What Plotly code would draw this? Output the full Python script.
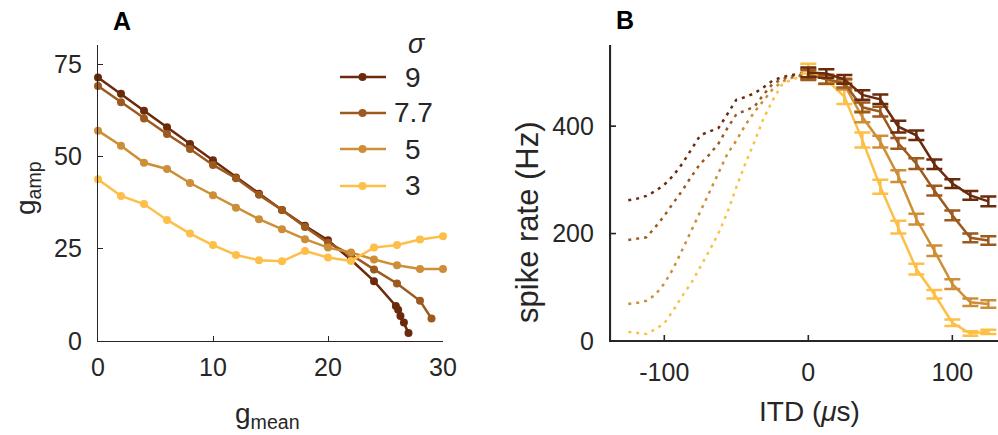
import plotly.graph_objects as go

W, H = 998, 435
FONT = "Liberation Sans, Arial, sans-serif"
AX = "#262626"

# ---------------- data ----------------
sigmas = ["9", "7.7", "5", "3"]
colors = ["#6B2A0C", "#9C5A1F", "#CD8E37", "#FDBF47"]

# Panel A: g_amp vs g_mean
gmean_9 = [0, 2, 4, 6, 8, 10, 12, 14, 16, 18, 20, 22, 24, 25.9, 26.1, 26.3, 26.6, 27.0]
gamp_9 = [71.4, 67.0, 62.4, 57.9, 53.4, 49.0, 44.3, 39.9, 35.5, 31.2, 27.3, 22.0, 16.2, 9.5, 8.5, 6.8, 5.0, 2.2]
gmean_77 = [0, 2, 4, 6, 8, 10, 12, 14, 16, 18, 20, 22, 24, 26, 28, 29]
gamp_77 = [69.1, 64.7, 60.3, 56.1, 52.0, 47.7, 44.1, 39.6, 35.5, 30.9, 26.6, 23.4, 19.4, 15.6, 10.9, 6.1]
gmean_5 = [0, 2, 4, 6, 8, 10, 12, 14, 16, 18, 20, 22, 24, 26, 28, 30]
gamp_5 = [57.0, 52.9, 48.3, 46.6, 42.8, 39.5, 36.1, 33.0, 30.3, 27.6, 25.3, 24.0, 22.1, 20.5, 19.5, 19.5]
gmean_3 = [0, 2, 4, 6, 8, 10, 12, 14, 16, 18, 20, 22, 24, 26, 28, 30]
gamp_3 = [43.8, 39.3, 37.1, 32.8, 29.1, 26.0, 23.3, 21.9, 21.6, 24.4, 22.6, 21.7, 25.3, 26.0, 27.5, 28.4]

# Panel B: spike rate vs ITD
itd_neg = [-125, -118.75, -112.5, -106.25, -100, -93.75, -87.5, -81.25, -75, -68.75, -62.5,
           -56.25, -50, -43.75, -37.5, -31.25, -25, -18.75, -12.5, -6.25, 0]
rate_neg_9 = [262, 265, 270, 279, 291, 308, 330, 357, 383, 390, 396, 422, 449, 454, 461, 472, 484, 491, 495, 498, 500]
rate_neg_77 = [188, 190, 193, 212, 233, 257, 280, 306, 330, 347, 367, 396, 422, 429, 436, 458, 478, 487, 492, 495, 495]
rate_neg_5 = [69, 71, 75, 86, 107, 135, 170, 205, 242, 274, 312, 348, 373, 402, 426, 447, 468, 482, 489, 493, 497]
rate_neg_3 = [17, 15, 13, 22, 33, 57, 84, 108, 137, 168, 200, 239, 286, 330, 370, 413, 447, 476, 486, 491, 507]

itd_pos = [0, 12.5, 25, 37.5, 50, 62.5, 75, 87.5, 100, 112.5, 125]
rate_pos_9 = [500, 498, 487, 458, 450, 399, 383, 329, 293, 271, 260]
rate_pos_77 = [495, 487, 480, 435, 427, 368, 330, 280, 234, 192, 187]
rate_pos_5 = [497, 487, 477, 417, 371, 307, 227, 168, 106, 72, 69]
rate_pos_3 = [507, 487, 455, 374, 287, 212, 134, 87, 34, 14, 17]
err_9 = [9, 8, 8, 9, 9, 11, 9, 9, 8, 8, 9]
err_77 = [9, 8, 8, 9, 9, 10, 10, 9, 9, 8, 8]
err_5 = [9, 8, 9, 10, 11, 11, 10, 10, 9, 7, 7]
err_3 = [9, 9, 14, 14, 13, 12, 10, 8, 6, 4, 4]

xticks_A = [0, 10, 20, 30]
yticks_A = [0, 25, 50, 75]
xticks_B = [-100, 0, 100]
xticklabels_B = ["-100", "0", "100"]
yticks_B = [0, 200, 400]
xrange_B = [-137.7, 131.7]
yrange_B = [0, 551]

# ---------------- figure ----------------
fig = go.Figure()

top_px, bot_px = 45, 341
ydom = [1 - bot_px / H, 1 - top_px / H]
xdom_A = [98 / W, 443 / W]
xdom_B = [610 / W, 1.0]

A_series = [(gmean_9, gamp_9), (gmean_77, gamp_77), (gmean_5, gamp_5), (gmean_3, gamp_3)]
for (xs, ys), c, s in zip(A_series, colors, sigmas):
    fig.add_trace(go.Scatter(x=xs, y=ys, mode="lines+markers", name=s,
                             line=dict(color=c, width=2.5),
                             marker=dict(color=c, size=8),
                             cliponaxis=False, showlegend=False,
                             xaxis="x", yaxis="y"))

neg = [rate_neg_9, rate_neg_77, rate_neg_5, rate_neg_3]
pos = [rate_pos_9, rate_pos_77, rate_pos_5, rate_pos_3]
errs = [err_9, err_77, err_5, err_3]
order = [3, 2, 1, 0]
for i in order:
    fig.add_trace(go.Scatter(x=itd_neg, y=neg[i], mode="lines",
                             line=dict(color=colors[i], width=2.5, dash="3px,5px"),
                             showlegend=False, xaxis="x2", yaxis="y2"))
for i in order:
    fig.add_trace(go.Scatter(x=itd_pos, y=pos[i], mode="lines",
                             line=dict(color=colors[i], width=2.5),
                             error_y=dict(type="data", array=errs[i], visible=True,
                                          color=colors[i], thickness=2.5, width=8),
                             showlegend=False, xaxis="x2", yaxis="y2"))

# Panel B axis frame (box off) and inside ticks, drawn on the B axes themselves
plot_w_B = (xdom_B[1] - xdom_B[0]) * W
plot_h_B = (ydom[1] - ydom[0]) * H
tick_dx = 6 * (xrange_B[1] - xrange_B[0]) / plot_w_B
tick_dy = 6 * (yrange_B[1] - yrange_B[0]) / plot_h_B
frame_x = [xrange_B[0], xrange_B[0], xrange_B[1]]
frame_y = [yrange_B[1], yrange_B[0], yrange_B[0]]
tx, ty = [], []
for t in xticks_B:
    tx += [t, t, None]
    ty += [yrange_B[0], yrange_B[0] + tick_dy, None]
for t in yticks_B[1:]:
    tx += [xrange_B[0], xrange_B[0] + tick_dx, None]
    ty += [t, t, None]
fig.add_trace(go.Scatter(x=frame_x, y=frame_y, mode="lines", line=dict(color=AX, width=2.2),
                         cliponaxis=False, showlegend=False, hoverinfo="skip",
                         xaxis="x2", yaxis="y2"))
fig.add_trace(go.Scatter(x=tx, y=ty, mode="lines", line=dict(color=AX, width=1.6),
                         cliponaxis=False, showlegend=False, hoverinfo="skip",
                         xaxis="x2", yaxis="y2"))

def axis_style(line=True):
    return dict(showline=line, linecolor=AX, linewidth=1.3, ticks="inside" if line else "",
                ticklen=5, tickcolor=AX, tickwidth=1.2, showgrid=False, zeroline=False,
                tickfont=dict(family=FONT, size=25, color=AX))

fig.update_layout(
    width=W, height=H,
    margin=dict(l=0, r=0, t=0, b=0, autoexpand=False),
    paper_bgcolor="white", plot_bgcolor="white",
    xaxis=dict(domain=xdom_A, range=[0, 30], tickvals=xticks_A,
               anchor="y", ticklabelstandoff=4, **axis_style()),
    yaxis=dict(domain=ydom, range=[0, 80.2], tickvals=yticks_A,
               anchor="x", ticklabelstandoff=10, **axis_style()),
    xaxis2=dict(domain=xdom_B, range=xrange_B, tickvals=xticks_B,
                ticktext=xticklabels_B,
                anchor="y2", ticklabelstandoff=9, **axis_style(True)),
    yaxis2=dict(domain=ydom, range=yrange_B, tickvals=yticks_B,
                anchor="x2", ticklabelstandoff=10, **axis_style(True)),
)

def px(x, y):
    return x / W, 1 - y / H

shapes = []
annotations = []
def ann(text, x, y, size, angle=0, bold=False, xanchor="center"):
    xx, yy = px(x, y)
    annotations.append(dict(text=f"<b>{text}</b>" if bold else text, x=xx, y=yy,
                            xref="paper", yref="paper", showarrow=False,
                            xanchor=xanchor, yanchor="middle", textangle=angle,
                            font=dict(family=FONT, size=size, color="black" if bold else AX)))

ann("A", 122, 21, 25, bold=True)
ann("B", 625, 20, 25, bold=True)
ann("g<sub>amp</sub>", 27, 188, 28, angle=-90)
ann("g<sub>mean</sub>", 267, 415, 28)
ann("spike rate (Hz)", 527, 222, 31, angle=-90)
ann("ITD (<i>μ</i>s)", 809, 411, 28)

# legend (manual, MATLAB style)
rows = [77, 113, 149, 186]
ann("<i>σ</i>", 417, 44, 27)
for s, c, ry in zip(sigmas, colors, rows):
    ann(s, 413, ry, 28)
    x0, y0 = px(340, ry)
    x1, _ = px(386, ry)
    shapes.append(dict(type="line", xref="paper", yref="paper", x0=x0, x1=x1, y0=y0, y1=y0,
                       line=dict(color=c, width=2.5)))
    cx0, cy0 = px(362.5 - 4, ry - 4)
    cx1, cy1 = px(362.5 + 4, ry + 4)
    shapes.append(dict(type="circle", xref="paper", yref="paper", x0=cx0, x1=cx1,
                       y0=cy1, y1=cy0, fillcolor=c, line=dict(color=c, width=0)))

fig.update_layout(annotations=annotations, shapes=shapes)
fig.write_html("out.html", config={"displayModeBar": False},
               post_script="document.body.style.margin='0';document.body.style.overflow='hidden';")
